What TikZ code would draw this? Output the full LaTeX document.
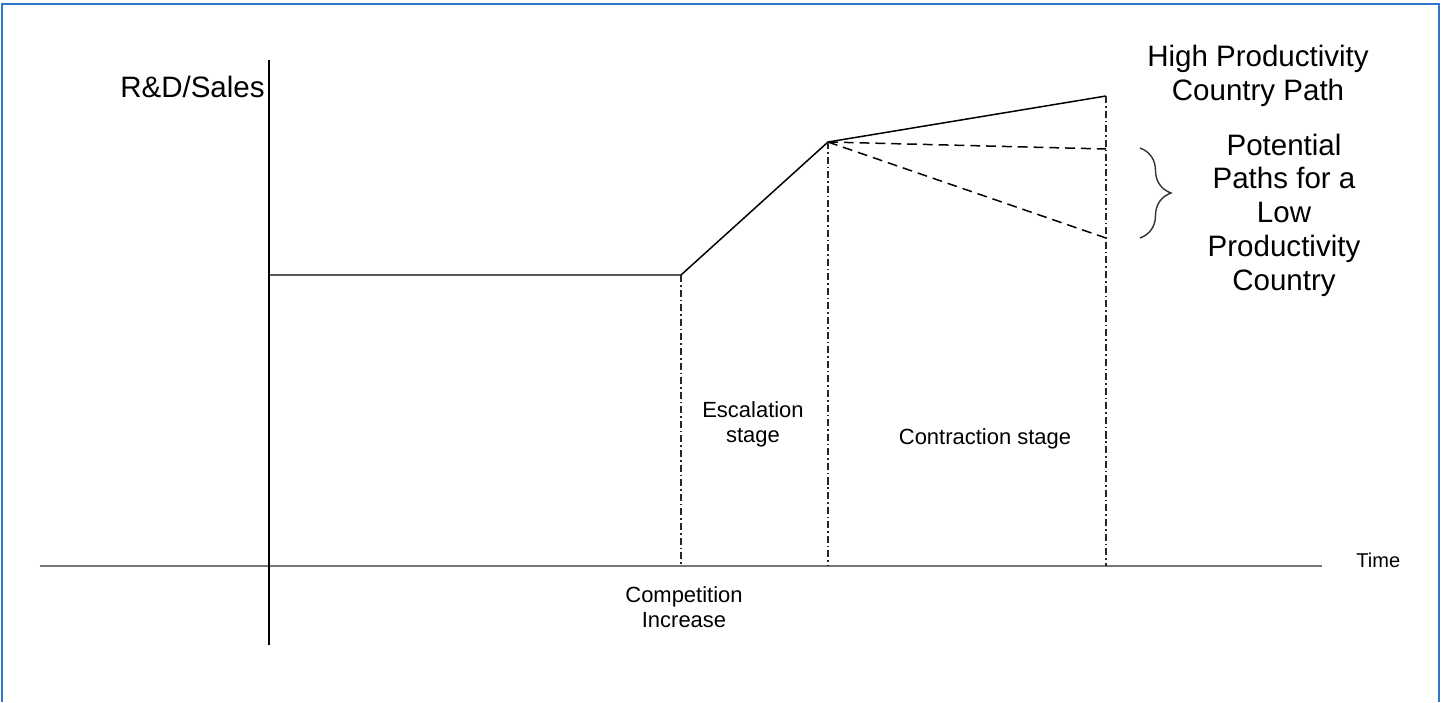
\documentclass[tikz,border=0pt]{standalone}
\usepackage{fontspec}
\setmainfont{Liberation Sans}
\usepackage{tikz}
\usetikzlibrary{decorations.pathreplacing}
\definecolor{framecol}{RGB}{46,117,204}
\definecolor{axisgray}{RGB}{118,118,118}

\begin{document}
\begin{tikzpicture}[scale=0.2,
  bigtext/.style={font=\fontsize{16.8}{19.2}\selectfont, align=center},
  smalltext/.style={font=\fontsize{12.5}{14}\selectfont, align=center},
  pathline/.style={black, line width=0.85pt},
  dashpath/.style={black, line width=0.85pt, dash pattern=on 5.6pt off 3.4pt},
  stageline/.style={black!85, line width=0.85pt, dash pattern=on 4pt off 1.7pt on 0.9pt off 1.7pt}]
\tikzstyle{every node}+=[inner sep=0pt]
\useasboundingbox (0,0) rectangle (144.5,-70.2);
\draw [framecol, line width=1.1pt] (0.2,-70.2) -- (0.2,-0.4) -- (143.9,-0.4) -- (143.9,-70.2);
\coordinate (ytop) at (26.9,-6.0);
\coordinate (ybot) at (26.9,-64.5);
\coordinate (xleft) at (4.0,-56.6);
\coordinate (xright) at (132.2,-56.6);
\coordinate (start) at (26.9,-27.5);
\coordinate (rise) at (68.1,-27.5);
\coordinate (peak) at (82.8,-14.2);
\coordinate (high) at (110.6,-9.6);
\coordinate (lowa) at (110.6,-14.9);
\coordinate (lowb) at (110.6,-23.8);
\coordinate (risefoot) at (68.1,-56.6);
\coordinate (peakfoot) at (82.8,-56.6);
\coordinate (highfoot) at (110.6,-56.6);
\draw [axisgray, line width=1.7pt] (xleft) -- (xright);
\draw [black, line width=1.1pt] (ytop) -- (ybot);
\draw [pathline] (start) -- (rise) -- (peak) -- (high);
\draw [dashpath] (peak) -- (lowa);
\draw [dashpath] (peak) -- (lowb);
\draw [stageline] (rise) -- (risefoot);
\draw [stageline] (peak) -- (peakfoot);
\draw [stageline] (high) -- (highfoot);
\draw [black!80, line width=0.8pt, decorate, decoration={brace, amplitude=3.1*5.69pt}] (114.0,-14.8) -- (114.0,-23.8);
\node (ylabel) [bigtext, anchor=base east] at (26.5,-9.7) {R\&D/Sales};
\node (time) [font=\fontsize{11.4}{13}\selectfont, anchor=base west] at (135.6,-56.7) {Time};
\node (comp) [smalltext, anchor=base] at (68.4,-62.7) {Competition\\Increase};
\node (escal) [smalltext, anchor=base] at (75.3,-44.2) {Escalation\\stage};
\node (contr) [smalltext, anchor=base] at (98.5,-44.4) {Contraction stage};
\node (hpath) [bigtext, anchor=base] at (125.8,-10.0) {High Productivity\\Country Path};
\node (lpath) [bigtext, anchor=base] at (128.4,-29.0) {Potential\\Paths for a\\Low\\Productivity\\Country};
\end{tikzpicture}
\end{document}
